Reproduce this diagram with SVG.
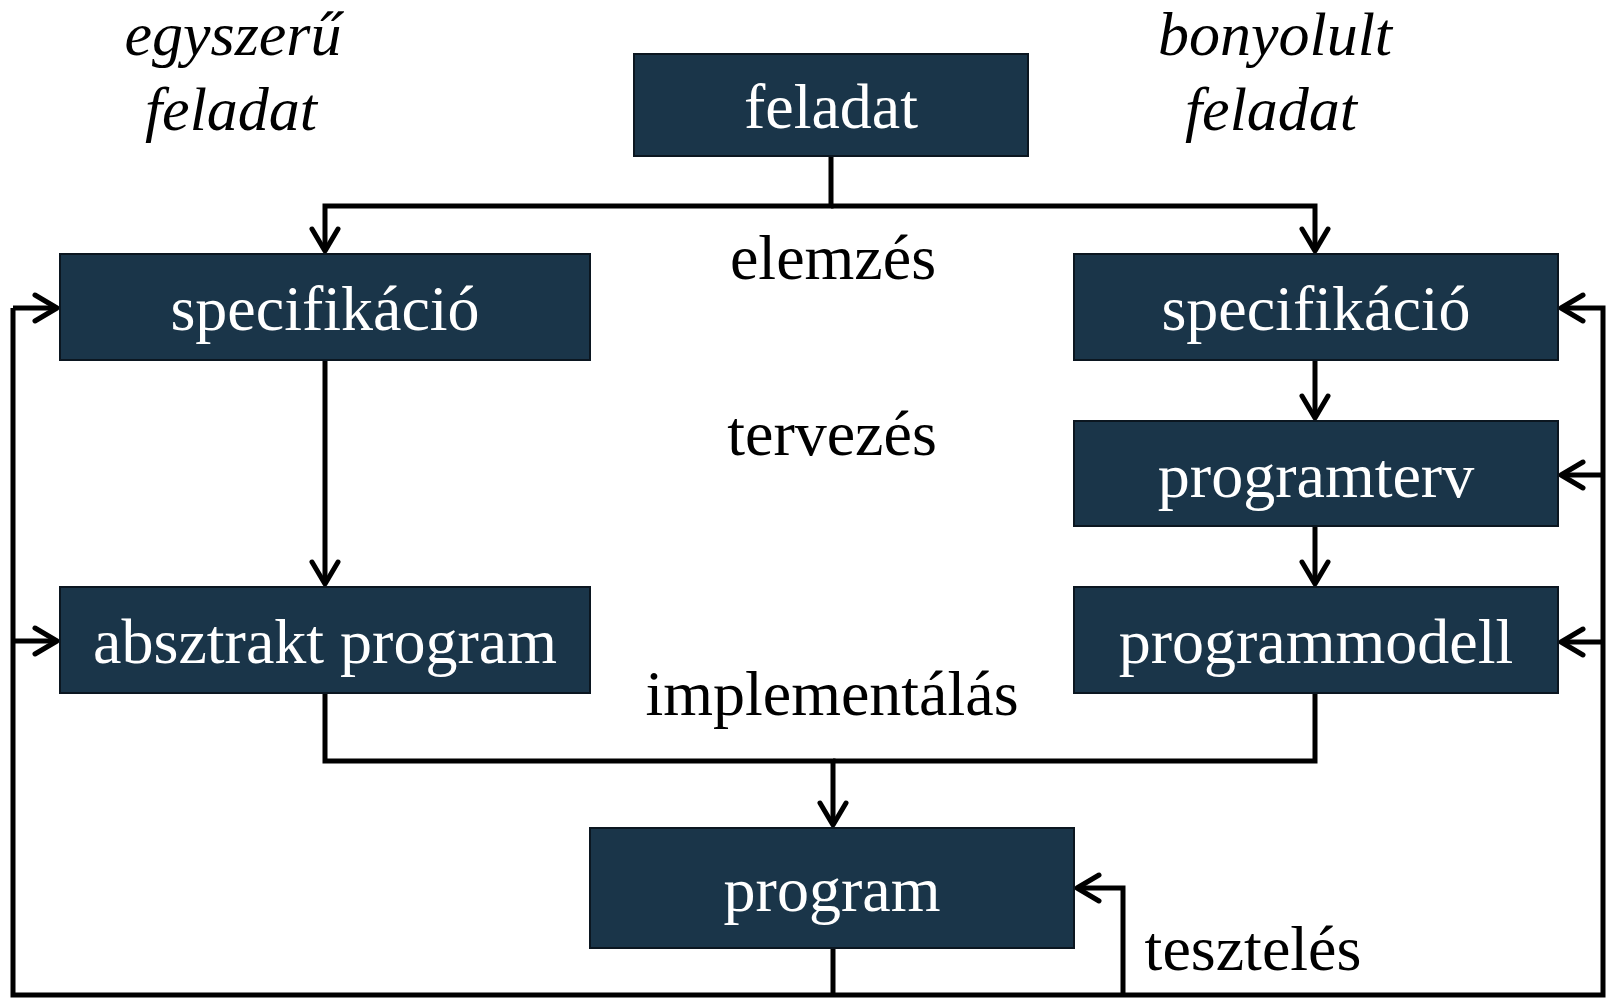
<svg xmlns="http://www.w3.org/2000/svg" width="1610" height="998" viewBox="0 0 1610 998">
<style>
.box{fill:#1a3549;stroke:#0b1620;stroke-width:2}
.bt{font-family:"Liberation Serif","Times New Roman",serif;font-size:64px;fill:#ffffff;text-anchor:middle}
.lbl{font-family:"Liberation Serif","Times New Roman",serif;font-size:64px;fill:#000000;text-anchor:middle}
.it{font-style:italic;font-size:62px}
.c{fill:none;stroke:#000;stroke-width:5;stroke-linejoin:miter}
</style>
<defs>
<marker id="ar" markerUnits="userSpaceOnUse" viewBox="-30 -20 40 40" refX="0" refY="0" markerWidth="40" markerHeight="40" orient="auto">
<path d="M-22,-13 L0,0 L-22,13" fill="none" stroke="#000" stroke-width="5" stroke-linejoin="round" stroke-linecap="round"/>
</marker>
</defs>
<rect width="1610" height="998" fill="#ffffff"/>
<g id="labels">
<text class="lbl it" x="233" y="55">egyszerű</text>
<text class="lbl it" x="231" y="130">feladat</text>
<text class="lbl it" x="1275" y="55">bonyolult</text>
<text class="lbl it" x="1271" y="130">feladat</text>
<text class="lbl" x="833" y="279">elemzés</text>
<text class="lbl" x="832" y="455">tervezés</text>
<text class="lbl" x="832" y="715">implementálás</text>
<text class="lbl" x="1253" y="970">tesztelés</text>
</g>
<g id="connectors">
<path class="c" d="M831,156 V206 H325 V251" marker-end="url(#ar)"/>
<path class="c" d="M831,206 H1315 V251" marker-end="url(#ar)"/>
<path class="c" d="M325,360 V584" marker-end="url(#ar)"/>
<path class="c" d="M1315,360 V418" marker-end="url(#ar)"/>
<path class="c" d="M1315,526 V584" marker-end="url(#ar)"/>
<path class="c" d="M325,693 V761 H833 V825" marker-end="url(#ar)"/>
<path class="c" d="M1315,693 V761 H833"/>
<path class="c" d="M833,948 V995"/>
<path class="c" d="M13,308 V995 H1603 V308 H1561" marker-end="url(#ar)"/>
<path class="c" d="M13,308 H57" marker-end="url(#ar)"/>
<path class="c" d="M13,641 H57" marker-end="url(#ar)"/>
<path class="c" d="M1603,475 H1561" marker-end="url(#ar)"/>
<path class="c" d="M1603,642 H1561" marker-end="url(#ar)"/>
<path class="c" d="M1123,995 V888 H1077" marker-end="url(#ar)"/>
</g>
<g id="feladat"><rect class="box" x="634" y="54" width="394" height="102"/><text class="bt" x="831" y="128">feladat</text></g>
<g id="spec-left"><rect class="box" x="60" y="254" width="530" height="106"/><text class="bt" x="325" y="330">specifikáció</text></g>
<g id="absztrakt"><rect class="box" x="60" y="587" width="530" height="106"/><text class="bt" x="325" y="663">absztrakt program</text></g>
<g id="spec-right"><rect class="box" x="1074" y="254" width="484" height="106"/><text class="bt" x="1316" y="330">specifikáció</text></g>
<g id="programterv"><rect class="box" x="1074" y="421" width="484" height="105"/><text class="bt" x="1316" y="497">programterv</text></g>
<g id="programmodell"><rect class="box" x="1074" y="587" width="484" height="106"/><text class="bt" x="1316" y="663">programmodell</text></g>
<g id="program"><rect class="box" x="590" y="828" width="484" height="120"/><text class="bt" x="832" y="911">program</text></g>
</svg>
